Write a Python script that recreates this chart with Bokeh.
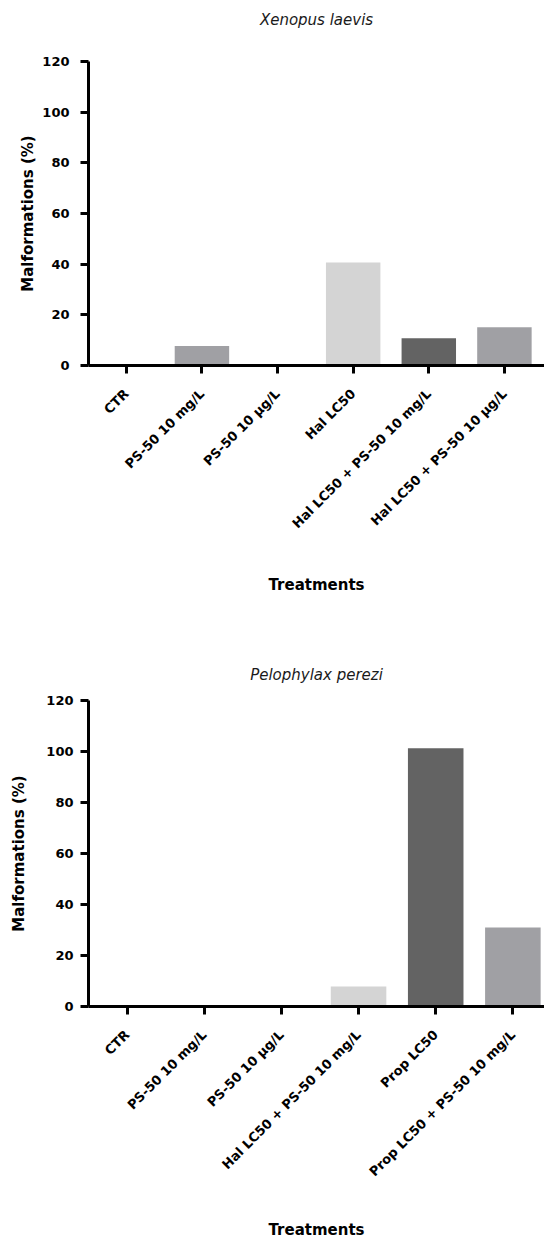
import math

from bokeh.embed import file_html
from bokeh.layouts import column
from bokeh.models import FixedTicker, Range1d, ColumnDataSource, Title
from bokeh.plotting import figure
from bokeh.resources import INLINE

# ---- data -------------------------------------------------------------
xen_treatments = [
    "CTR",
    "PS-50 10 mg/L",
    "PS-50 10 µg/L",
    "Hal LC50",
    "Hal LC50 + PS-50 10 mg/L",
    "Hal LC50 + PS-50 10 µg/L",
]
xen_malformations = [0, 7.7, 0, 40.7, 10.8, 15.1]

pel_treatments = [
    "CTR",
    "PS-50 10 mg/L",
    "PS-50 10 µg/L",
    "Hal LC50 + PS-50 10 mg/L",
    "Prop LC50",
    "Prop LC50 + PS-50 10 mg/L",
]
pel_malformations = [0, 0, 0, 7.8, 101.3, 31.0]

y_ticks = [0, 20, 40, 60, 80, 100, 120]
Y_MAX = 120

# ---- styles -----------------------------------------------------------
MID = "#a0a0a4"
LIGHT = "#d4d4d4"
DARK = "#636363"
xen_colors = [MID, MID, MID, LIGHT, DARK, MID]
pel_colors = [MID, MID, MID, LIGHT, DARK, MID]

FONT = "DejaVu Sans"


def bar_panel(title, cats, vals, colors, height, x_end, borders, title_gap,
              ylabel_standoff, ytick_standoff, xlabel_standoff):
    left, top, bottom = borders
    p = figure(
        width=544,
        height=height,
        output_backend="svg",
        toolbar_location=None,
        x_range=Range1d(0, x_end),
        y_range=Range1d(0, Y_MAX),
        min_border_left=left,
        min_border_right=0,
        min_border_top=top,
        min_border_bottom=bottom,
        title=title,
    )
    p.outline_line_color = None
    p.grid.visible = False
    p.background_fill_color = "white"
    p.border_fill_color = "white"

    pos = [i + 0.5 for i in range(len(cats))]
    src = ColumnDataSource(dict(x=pos, top=vals, color=colors))
    p.vbar(x="x", top="top", bottom=0, width=0.72, fill_color="color",
           line_color=None, source=src)

    # species name, lifted off the plot area by an empty spacer title
    p.title.align = "center"
    p.title.text_font = FONT
    p.title.text_font_style = "italic"
    p.title.text_font_size = "15px"
    p.title.text_color = "#1a1a1a"
    p.title.standoff = 0
    p.add_layout(Title(text=" ", text_font_size="1px", standoff=title_gap), "above")

    # axes
    for ax in (p.xaxis[0], p.yaxis[0]):
        ax.axis_line_width = 3
        ax.axis_line_color = "black"
        ax.major_tick_line_width = 3
        ax.major_tick_line_color = "black"
        ax.major_tick_out = 8
        ax.major_tick_in = 0
        ax.minor_tick_line_color = None
        ax.major_label_text_font = FONT
        ax.major_label_text_font_style = "bold"
        ax.major_label_text_color = "black"
        ax.axis_label_text_font = FONT
        ax.axis_label_text_font_style = "bold"
        ax.axis_label_text_font_size = "15px"
        ax.axis_label_text_color = "black"

    p.yaxis.ticker = FixedTicker(ticks=y_ticks)
    p.yaxis.major_label_text_font_size = "13px"
    p.yaxis.major_label_standoff = ytick_standoff
    p.yaxis.axis_label = "Malformations (%)"
    p.yaxis.axis_label_standoff = ylabel_standoff

    p.xaxis.ticker = FixedTicker(ticks=pos)
    p.xaxis.major_label_overrides = {x: c for x, c in zip(pos, cats)}
    p.xaxis.major_label_orientation = math.pi / 4
    p.xaxis.major_label_text_font_size = "13px"
    p.xaxis.major_label_standoff = 18
    p.xaxis.axis_label = "Treatments"
    p.xaxis.axis_label_standoff = xlabel_standoff
    return p


top_plot = bar_panel("Xenopus laevis", xen_treatments, xen_malformations,
                     xen_colors, 620, 6.03, (83, 61, 255), 30, 2, 11, 37)
bottom_plot = bar_panel("Pelophylax perezi", pel_treatments, pel_malformations,
                        pel_colors, 621, 5.91, (88, 80, 235), 14, 15, 7, 33)

layout = column(top_plot, bottom_plot, spacing=0)

with open("out.html", "w") as f:
    f.write(file_html(layout, INLINE))
